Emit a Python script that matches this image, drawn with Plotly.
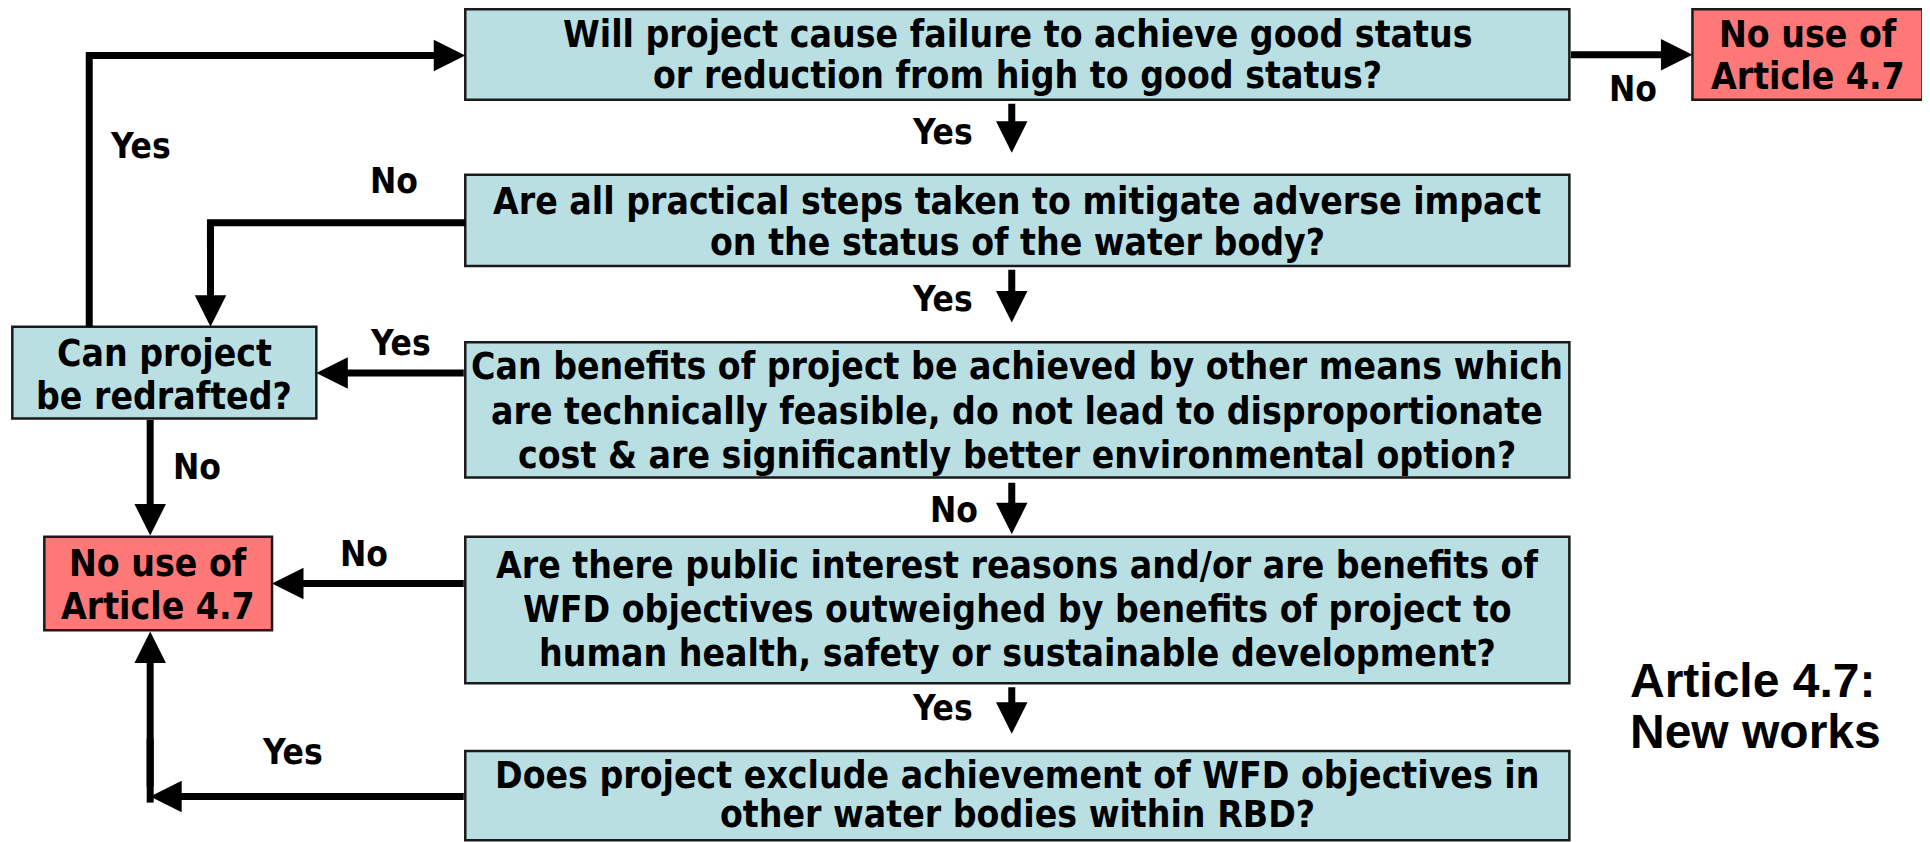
import plotly.graph_objects as go

# ---------------- content ----------------
question_texts = [
    ["Will project cause failure to achieve good status",
     "or reduction from high to good status?"],
    ["Are all practical steps taken to mitigate adverse impact",
     "on the status of the water body?"],
    ["Can benefits of project be achieved by other means which",
     "are technically feasible, do not lead to disproportionate",
     "cost & are significantly better environmental option?"],
    ["Are there public interest reasons and/or are benefits of",
     "WFD objectives outweighed by benefits of project to",
     "human health, safety or sustainable development?"],
    ["Does project exclude achievement of WFD objectives in",
     "other water bodies within RBD?"],
]
redraft_text = ["Can project", "be redrafted?"]
outcome_text = ["No use of", "Article 4.7"]
title_text = ["Article 4.7:", "New works"]
edge_labels = ["Yes", "No", "Yes", "No", "No", "Yes",
               "Yes", "Yes", "No", "Yes", "No"]

# ---------------- layout geometry (design units: 1568 x 684) ----------------
W, H = 1568, 684
OFF = 8 / (1930 / W)   # compensate the page's default 8px body margin
BLUE = "#B9DFE3"
RED = "#FF7878"
EDGE = "#1a1a1a"
FONT = "DejaVu Sans Condensed, DejaVu Sans, Verdana, sans-serif"
TFONT = "Liberation Sans Narrow, Liberation Sans, Arial, sans-serif"
FS = 37
LS = 35
LW = 7

q_boxes = [(378, 7.5, 1275, 81), (378, 142, 1275, 216), (378, 278, 1275, 388),
           (378, 436, 1275, 555), (378, 610, 1275, 682.5)]
q_lines_y = [[28, 61], [164, 197], [298, 334, 370], [459, 495, 531], [630, 662]]
redraft_box = (10, 265.5, 257, 340)
redraft_y = [287, 322]
out_boxes = [(1375, 7.5, 1562, 81), (36, 436, 221, 512)]
out_y = [[28, 62], [458, 493]]

fig = go.Figure()
fig.add_trace(go.Scatter(x=[0, W], y=[0, H], mode="markers",
                         marker=dict(opacity=0), hoverinfo="skip", showlegend=False))

shapes = []
annotations = []


def rect(b, fill):
    shapes.append(dict(type="rect", xref="x", yref="y", x0=b[0], y0=b[1], x1=b[2], y1=b[3],
                       fillcolor=fill, line=dict(color=EDGE, width=2.5), layer="below"))


def text(x, y, s, size=FS, family=FONT, anchor="center"):
    annotations.append(dict(x=x, y=y, xref="x", yref="y", text="<b>" + s + "</b>",
                            showarrow=False, xanchor=anchor, yanchor="middle",
                            font=dict(family=family, size=size, color="black")))


def seg(points):
    path = "M " + " L ".join(f"{px},{py}" for px, py in points)
    shapes.append(dict(type="path", xref="x", yref="y", path=path,
                       line=dict(color="black", width=LW)))


def arrow(x0, y0, x1, y1):
    annotations.append(dict(x=x1, y=y1, ax=x0, ay=y0, xref="x", yref="y", axref="x", ayref="y",
                            text="", showarrow=True, arrowhead=2, arrowsize=0.9,
                            arrowwidth=LW, arrowcolor="black", standoff=0, startstandoff=0))


for b, lines, ys in zip(q_boxes, question_texts, q_lines_y):
    rect(b, BLUE)
    cx = (b[0] + b[2]) / 2
    for s, y in zip(lines, ys):
        text(cx, y, s)

rect(redraft_box, BLUE)
for s, y in zip(redraft_text, redraft_y):
    text((redraft_box[0] + redraft_box[2]) / 2, y, s)

for b, ys in zip(out_boxes, out_y):
    rect(b, RED)
    for s, y in zip(outcome_text, ys):
        text((b[0] + b[2]) / 2, y, s)

# connectors
CX = 822
arrow(1275, 44.5, 1375, 44.5)       # Q1 -> No use (top right)
arrow(CX, 83, CX, 124)              # Q1 -> Q2
arrow(CX, 218, CX, 262)             # Q2 -> Q3
arrow(CX, 391, CX, 434)             # Q3 -> Q4
arrow(CX, 557, CX, 596)             # Q4 -> Q5
seg([(378, 181), (171, 181), (171, 200)])
arrow(171, 180, 171, 265.5)         # Q2 No -> redraft
arrow(378, 303, 257, 303)           # Q3 Yes -> redraft
seg([(72.5, 265.5), (72.5, 45), (300, 45)])
arrow(200, 45, 378, 45)             # redraft Yes -> Q1
arrow(122, 340, 122, 435)           # redraft No -> No use
arrow(378, 474, 221, 474)           # Q4 No -> No use
arrow(378, 647, 122, 647)           # Q5 Yes -> left
seg([(122, 652), (122, 600)])
arrow(122, 640, 122, 513)           # up to No use

label_pos = [(114, 119), (320, 147), (325, 279), (160, 379), (296, 450), (238, 611),
             (766, 107), (766, 243), (775, 414), (766, 575), (1327, 72)]
for s, (x, y) in zip(edge_labels, label_pos):
    text(x, y, s, size=LS)

text(1323, 553, title_text[0], size=48, family=TFONT, anchor="left")
text(1323, 594, title_text[1], size=48, family=TFONT, anchor="left")

fig.update_layout(
    width=1930, height=842, margin=dict(l=0, r=0, t=0, b=0),
    paper_bgcolor="white", plot_bgcolor="white", showlegend=False,
    xaxis=dict(range=[OFF, W + OFF], visible=False, fixedrange=True),
    yaxis=dict(range=[H + OFF, OFF], visible=False, fixedrange=True),
    shapes=shapes, annotations=annotations,
)
fig.write_html("out.html")
